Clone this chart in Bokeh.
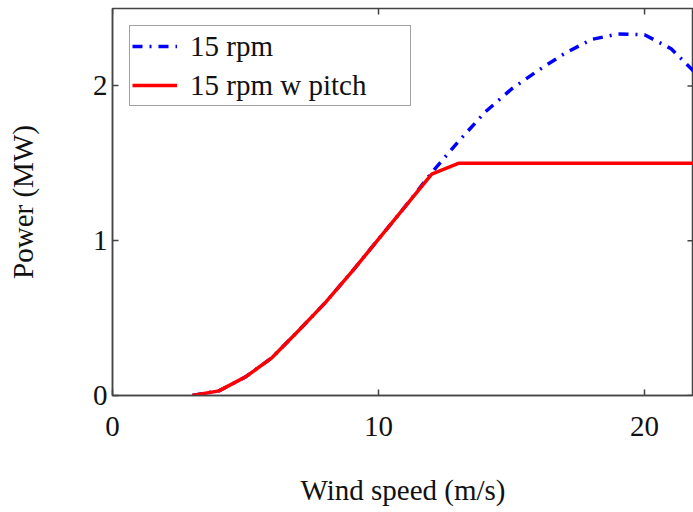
from bokeh.plotting import figure
from bokeh.models import Range1d, Legend, LegendItem, FixedTicker
from bokeh.embed import file_html
from bokeh.resources import INLINE

# Data
wind_speed = [3, 4, 5, 6, 7, 8, 9, 10, 11, 12, 13, 14, 15, 16, 17, 18, 19, 20, 21, 22]
power_15rpm = [0.0, 0.03, 0.12, 0.245, 0.42, 0.60, 0.80, 1.01, 1.22, 1.44, 1.64, 1.83, 1.98, 2.10, 2.21, 2.30, 2.335, 2.33, 2.24, 2.07]
power_15rpm_pitch = [0.0, 0.03, 0.12, 0.245, 0.42, 0.60, 0.80, 1.01, 1.22, 1.43, 1.50, 1.50, 1.50, 1.50, 1.50, 1.50, 1.50, 1.50, 1.50, 1.50]

x_ticks = [0, 10, 20]
y_ticks = [0, 1, 2]
x_label = "Wind speed (m/s)"
y_label = "Power (MW)"
legend_labels = ["15 rpm", "15 rpm w pitch"]

X_MAX = 21.84
Y_MAX = 2.5
FONT = "Liberation Serif"
AX = "#444444"

p = figure(width=693, height=512, output_backend="svg", toolbar_location=None,
           x_range=Range1d(0, X_MAX), y_range=Range1d(0, Y_MAX),
           min_border_left=112, min_border_right=0, min_border_top=8,
           min_border_bottom=117)
p.background_fill_color = "white"
p.border_fill_color = "white"
p.grid.visible = False
p.outline_line_color = AX
p.outline_line_width = 1.5

r_blue = p.line(wind_speed, power_15rpm, line_color="#0000ff", line_width=3.5,
                line_dash="10 7 2 7")
r_red = p.line(wind_speed, power_15rpm_pitch, line_color="#ff0000", line_width=3.5)

# mirrored inward ticks on the top and right frame edges
dx = 6 / 26.6
dy = 6 / 154.8
p.segment(x0=x_ticks, y0=[Y_MAX] * len(x_ticks), x1=x_ticks, y1=[Y_MAX - dy] * len(x_ticks),
          line_color=AX, line_width=1.5)
p.segment(x0=[X_MAX] * len(y_ticks), y0=y_ticks, x1=[X_MAX - dx] * len(y_ticks), y1=y_ticks,
          line_color=AX, line_width=1.5)

for ax, ticks in ((p.xaxis[0], x_ticks), (p.yaxis[0], y_ticks)):
    ax.ticker = FixedTicker(ticks=ticks)
    ax.major_tick_in = 6
    ax.major_tick_out = 0
    ax.minor_tick_line_color = None
    ax.axis_line_color = AX
    ax.axis_line_width = 1.5
    ax.major_tick_line_color = AX
    ax.major_tick_line_width = 1.5
    ax.major_label_text_font = FONT
    ax.major_label_text_font_size = "29px"
    ax.major_label_text_color = "#111111"
    ax.axis_label_text_font = FONT
    ax.axis_label_text_font_size = "29px"
    ax.axis_label_text_font_style = "normal"
    ax.axis_label_text_color = "#111111"

p.xaxis[0].axis_label = x_label
p.yaxis[0].axis_label = y_label
p.xaxis[0].major_label_standoff = 21
p.xaxis[0].axis_label_standoff = 35
p.yaxis[0].major_label_standoff = 5
p.yaxis[0].axis_label_standoff = 51

legend = Legend(items=[LegendItem(label=legend_labels[0], renderers=[r_blue]),
                       LegendItem(label=legend_labels[1], renderers=[r_red])],
                location="top_left")
legend.margin = 17
legend.padding = 2
legend.spacing = 3
legend.glyph_width = 45
legend.glyph_height = 36
legend.label_height = 36
legend.label_width = 218
legend.label_standoff = 13
legend.label_text_font = FONT
legend.label_text_font_size = "29px"
legend.label_text_color = "#111111"
legend.border_line_color = AX
legend.border_line_width = 1.5
legend.background_fill_alpha = 1.0
p.add_layout(legend, "center")

open("out.html", "w").write(file_html(p, INLINE))
